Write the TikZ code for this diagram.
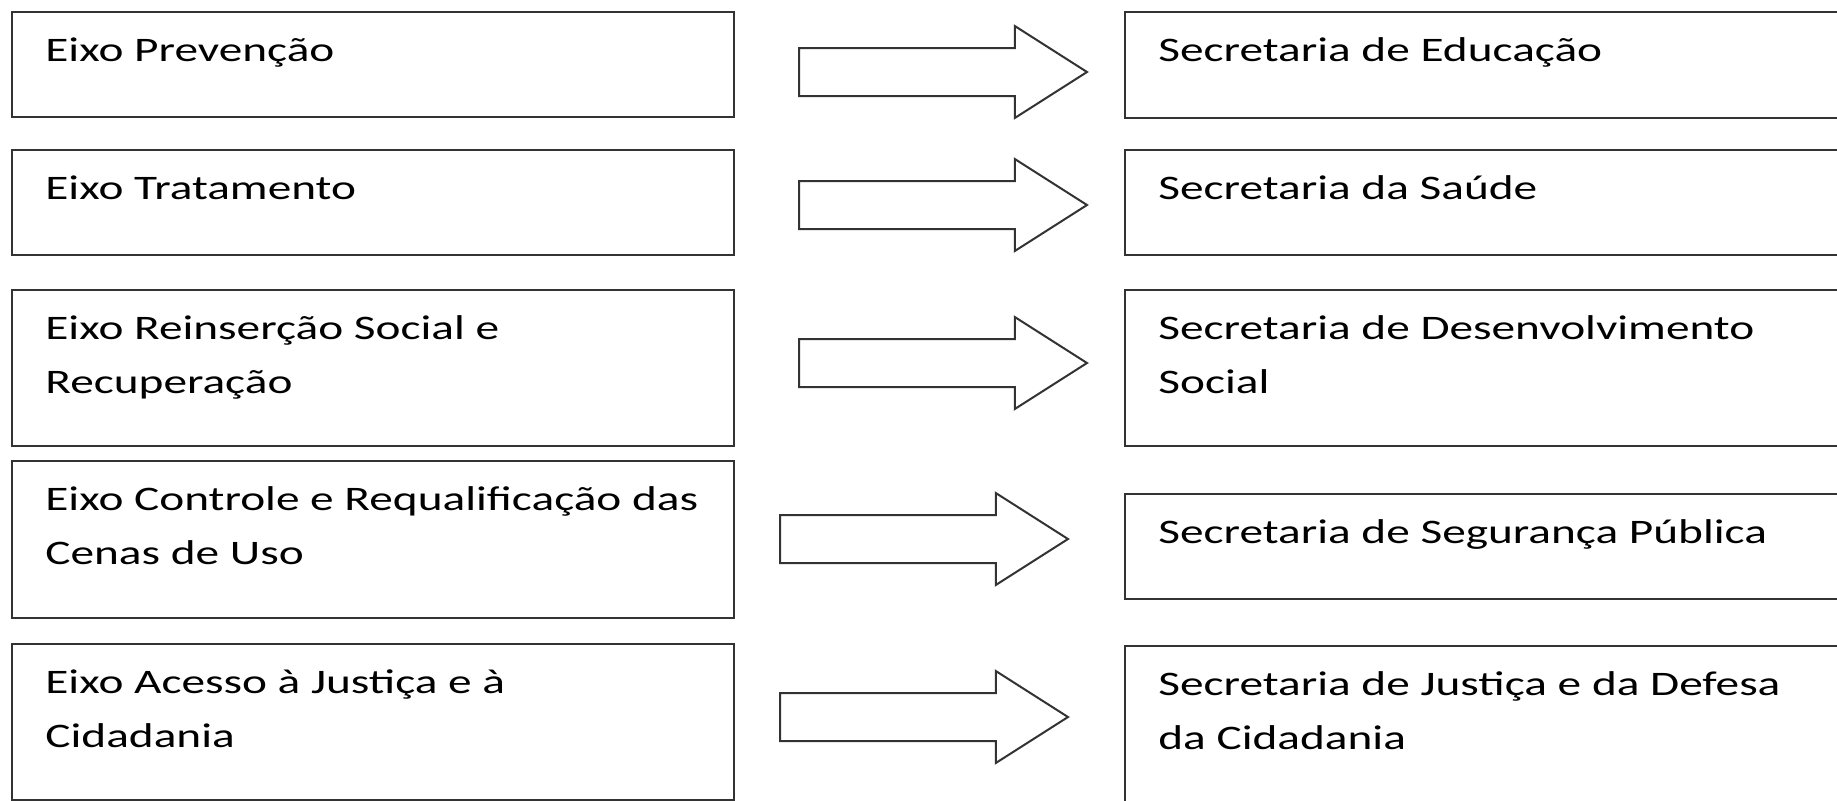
\documentclass[tikz,border=0pt]{standalone}
\usepackage{fontspec}
\newfontfamily\boxfont{Carlito}[FakeStretch=1.375]
\usetikzlibrary{shapes.arrows,positioning}

\tikzset{
  eixo/.style={draw=black!80, line width=1pt, anchor=north west, inner sep=0pt, minimum width=361pt},
  secr/.style={draw=black!80, line width=1pt, anchor=north west, inner sep=0pt, minimum width=380pt},
  txt/.style={anchor=base west, inner sep=0pt, align=left, font=\boxfont\fontsize{17.2}{27}\selectfont},
  seta/.style={single arrow, draw=black!80, line width=1pt, anchor=tail, inner xsep=0pt, inner ysep=11.5pt,
    minimum height=144pt, single arrow head extend=11pt, single arrow tip angle=65}
}

\begin{document}
\begin{tikzpicture}[x=0.5pt, y=-0.5pt]
			\useasboundingbox (0,0) rectangle (1837,800);

			% eixos
			\node[eixo, minimum height=52.5pt] (E1) at (11,11) {};
			\node[eixo, minimum height=52.5pt] (E2) at (11,149) {};
			\node[eixo, minimum height=78pt] (E3) at (11,289) {};
			\node[eixo, minimum height=78.5pt] (E4) at (11,460) {};
			\node[eixo, minimum height=78pt] (E5) at (11,643) {};

			% secretarias
			\node[secr, minimum height=53pt] (S1) at (1124,11) {};
			\node[secr, minimum height=52.5pt] (S2) at (1124,149) {};
			\node[secr, minimum height=78pt] (S3) at (1124,289) {};
			\node[secr, minimum height=52.5pt] (S4) at (1124,493) {};
			\node[secr, minimum height=85pt] (S5) at (1124,645) {};

			% textos (base = ultima linha)
			\node[txt] (tE1) at ([shift={(17pt,-25pt)}]E1.north west) {Eixo Prevenção};
			\node[txt] (tE2) at ([shift={(17pt,-25pt)}]E2.north west) {Eixo Tratamento};
			\node[txt] (tE3) at ([shift={(17pt,-52pt)}]E3.north west) {Eixo Reinserção Social e\\Recuperação};
			\node[txt] (tE4) at ([shift={(17pt,-52pt)}]E4.north west) {Eixo Controle e Requalificação das\\Cenas de Uso};
			\node[txt] (tE5) at ([shift={(17pt,-52pt)}]E5.north west) {Eixo Acesso à Justiça e à\\Cidadania};

			\node[txt] (tS1) at ([shift={(17pt,-25pt)}]S1.north west) {Secretaria de Educação};
			\node[txt] (tS2) at ([shift={(17pt,-25pt)}]S2.north west) {Secretaria da Saúde};
			\node[txt] (tS3) at ([shift={(17pt,-52pt)}]S3.north west) {Secretaria de Desenvolvimento\\Social};
			\node[txt] (tS4) at ([shift={(17pt,-25pt)}]S4.north west) {Secretaria de Segurança Pública};
			\node[txt] (tS5) at ([shift={(17pt,-52pt)}]S5.north west) {Secretaria de Justiça e da Defesa\\da Cidadania};

			% setas
			\node[seta] (A1) at (798,72) {};
			\node[seta] (A2) at (798,205) {};
			\node[seta] (A3) at (798,363) {};
			\node[seta] (A4) at (779,539) {};
			\node[seta] (A5) at (779,717) {};

		    \end{tikzpicture}
\end{document}
